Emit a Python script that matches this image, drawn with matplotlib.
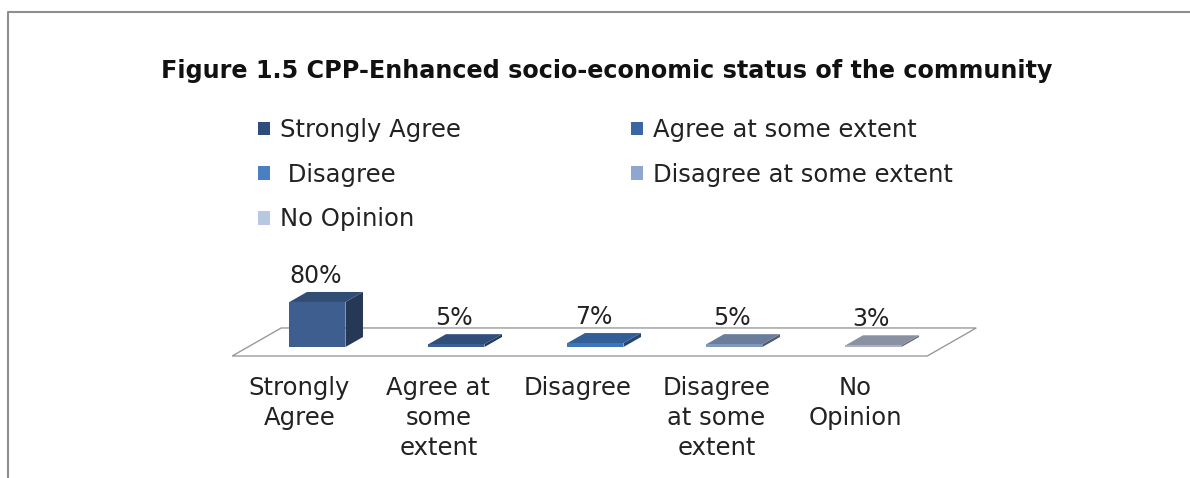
import numpy as np
import matplotlib.pyplot as plt
import matplotlib.colors as mcolors
from matplotlib.patches import Polygon, Patch
from matplotlib.lines import Line2D

# survey responses
categories = ['Strongly Agree', 'Agree at some extent', ' Disagree',
              'Disagree at some extent', 'No Opinion']
tick_labels = ['Strongly\nAgree', 'Agree at\nsome\nextent', 'Disagree',
               'Disagree\nat some\nextent', 'No\nOpinion']
values = [80, 5, 7, 5, 3]
bar_colors = ['#3D5E8E', '#3A5F95', '#3E74BA', '#8198BC', '#A7B1C7']
legend_colors = ['#2E4C7C', '#3B66A3', '#4A80C2', '#8EA6D0', '#B8C7E2']

# fake 3d: offset of one unit of depth, bar width
DX, DY = 0.126, 17.8
W = 0.403

plt.rcParams['font.family'] = 'DejaVu Sans'

fig = plt.figure(figsize=(11.9, 4.78), dpi=100)
ax = fig.add_axes([200 / 1190, 108 / 478, 800 / 1190, 120 / 478])
ax.set_xlim(-0.845, 4.910)
ax.set_ylim(-40.9, 172.4)
for s in ax.spines.values():
    s.set_visible(False)
ax.set_yticks([])


def proj(x, y, d):
    return (x + d * DX, y + d * DY)


# floor
floor = [proj(-0.5, 0, -0.9), proj(4.5, 0, -0.9), proj(4.5, 0, 1.9), proj(-0.5, 0, 1.9)]
ax.add_patch(Polygon(floor, closed=True, facecolor='white', edgecolor='#9A9A9A', lw=1.0, zorder=1))

for i, v in enumerate(values):
    base = np.array(mcolors.to_rgb(bar_colors[i]))
    x0, x1 = i - W / 2, i + W / 2
    front = [proj(x0, 0, 0), proj(x1, 0, 0), proj(x1, v, 0), proj(x0, v, 0)]
    top = [proj(x0, v, 0), proj(x1, v, 0), proj(x1, v, 1), proj(x0, v, 1)]
    side = [proj(x1, 0, 0), proj(x1, 0, 1), proj(x1, v, 1), proj(x1, v, 0)]
    ax.add_patch(Polygon(side, closed=True, facecolor=base * 0.6, edgecolor='none', zorder=2))
    ax.add_patch(Polygon(top, closed=True, facecolor=base * 0.82, edgecolor='none', zorder=3))
    ax.add_patch(Polygon(front, closed=True, facecolor=base, edgecolor='none', zorder=3))
    ax.annotate(f'{v}%', (i - 0.015, v + DY), xytext=(0, 3), textcoords='offset points',
                ha='center', va='bottom', fontsize=17, color='#222222', zorder=4)

ax.set_xticks(np.arange(len(values)) - 0.13, tick_labels, fontsize=17.5, linespacing=1.33)
ax.tick_params(axis='x', length=0, pad=4, colors='#222222')

fig.text(607 / 1190, 1 - 71 / 478, 'Figure 1.5 CPP-Enhanced socio-economic status of the community',
         ha='center', va='center', fontsize=17.2, fontweight='bold', color='#111111')

# legend laid out row by row
order = [0, 2, 4, 1, 3]
handles = [Patch(facecolor=legend_colors[k], edgecolor='none') for k in order]
fig.legend(handles, [categories[k] for k in order], ncol=2, frameon=False,
           loc='upper left', bbox_to_anchor=(246 / 1190, 1 - 106 / 478),
           fontsize=17.5, handlelength=0.5, handleheight=0.5, handletextpad=0.4,
           columnspacing=7.0, labelspacing=0.85, borderpad=0, labelcolor='#222222')

# outer frame
fig.add_artist(Line2D([8 / 1190, 8 / 1190, 1.0], [0.0, 1 - 12 / 478, 1 - 12 / 478],
                      transform=fig.transFigure, color='#8E8E8E', lw=1.5))

fig.savefig('out.png', dpi=100)
